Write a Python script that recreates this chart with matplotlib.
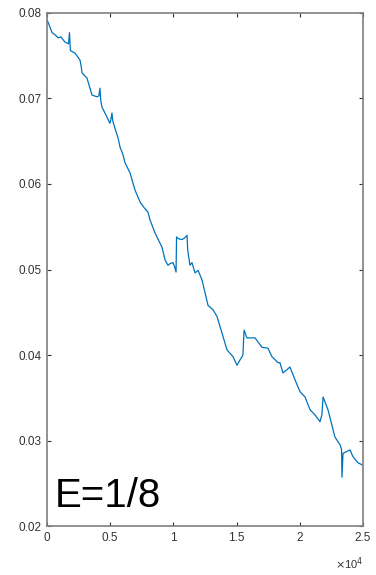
import matplotlib
matplotlib.use("Agg")
import matplotlib.pyplot as plt

plt.rcParams['font.family'] = ['Liberation Sans', 'DejaVu Sans']

# iteration (raw units) and value
iters = [0, 200, 400, 600, 870, 1100, 1420, 1700, 1780, 1850, 2220, 2610, 2700, 2770,
         3160, 3400, 3560, 3960, 4100, 4190, 4250, 4350, 4750, 4980, 5050, 5140, 5200,
         5380, 5620, 5780, 6000, 6170, 6570, 6960, 7360, 7700, 7990, 8150, 8540, 8800,
         9100, 9340, 9570, 9750, 9970, 10100, 10210, 10250, 10400, 10680, 10900, 11080,
         11130, 11310, 11470, 11710, 11950, 12260, 12500, 12740, 13130, 13450, 13840,
         14240, 14720, 15030, 15300, 15430, 15500, 15590, 15820, 16460, 17010, 17480,
         17800, 18280, 18430, 18670, 19000, 19220, 19620, 20020, 20410, 20810, 21200,
         21600, 21750, 21840, 22230, 22780, 23180, 23300, 23340, 23420, 23970, 24210,
         24600, 25000]
values = [0.0792, 0.0785, 0.0777, 0.0775, 0.0771, 0.0772, 0.0766, 0.0764, 0.0777, 0.0756,
          0.0753, 0.0745, 0.0738, 0.0730, 0.0724, 0.0712, 0.0704, 0.0702, 0.0703, 0.0712,
          0.0698, 0.0690, 0.0678, 0.0671, 0.0675, 0.0683, 0.0674, 0.0665, 0.0654, 0.0643,
          0.0635, 0.0625, 0.0613, 0.0593, 0.0579, 0.0572, 0.0567, 0.0558, 0.0543, 0.0535,
          0.0526, 0.0511, 0.0505, 0.0507, 0.0508, 0.0503, 0.0497, 0.0538, 0.0536, 0.0535,
          0.0537, 0.0540, 0.0523, 0.0505, 0.0508, 0.0496, 0.0499, 0.0488, 0.0473, 0.0458,
          0.0453, 0.0445, 0.0426, 0.0406, 0.0398, 0.0388, 0.0395, 0.0398, 0.0400, 0.0429,
          0.0420, 0.0420, 0.0409, 0.0408, 0.0398, 0.0391, 0.0391, 0.0379, 0.0383, 0.0386,
          0.0371, 0.0357, 0.0351, 0.0336, 0.0330, 0.0322, 0.0330, 0.0351, 0.0336, 0.0304,
          0.0295, 0.0290, 0.0257, 0.0285, 0.0289, 0.0281, 0.0274, 0.0271]

xticks = [0, 5000, 10000, 15000, 20000, 25000]
xticklabels = ["0", "0.5", "1", "1.5", "2", "2.5"]
yticks = [0.02, 0.03, 0.04, 0.05, 0.06, 0.07, 0.08]
yticklabels = ["0.02", "0.03", "0.04", "0.05", "0.06", "0.07", "0.08"]
label_text = "E=1/8"

fig = plt.figure(figsize=(3.76, 5.75), dpi=100)
ax = fig.add_axes([0.125, 0.0852, 0.8404, 0.8922])
ax.plot(iters, values, color='#0072BD', linewidth=0.9)
ax.set_xlim(0, 25000)
ax.set_ylim(0.02, 0.08)
ax.set_xticks(xticks)
ax.set_xticklabels(xticklabels)
ax.set_yticks(yticks)
ax.set_yticklabels(yticklabels)

edge = '#7f7f7f'
for s in ax.spines.values():
    s.set_color(edge)
    s.set_linewidth(1.2)
ax.tick_params(direction='in', length=3, width=0.8, color='#333333',
               top=True, right=True, labelsize=8.5, labelcolor='#333333', pad=4)

ax.text(1.0, -0.058, r"$\times$10$^4$", transform=ax.transAxes, ha='right', va='top',
        fontsize=8, color='#333333')
ax.text(0.025, 0.022, label_text, transform=ax.transAxes, ha='left', va='bottom',
        fontsize=29, color='black')

fig.savefig("out.png", dpi=100)
